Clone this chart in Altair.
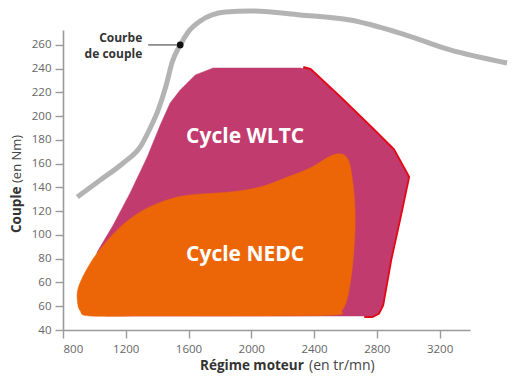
import altair as alt
import pandas as pd

# ---------------- data ----------------
x_ticks = [800, 1200, 1600, 2000, 2400, 2800, 3200]
y_tick_values = [20, 40, 60, 80, 100, 120, 140, 160, 180, 200, 220, 240, 260]
y_tick_labels = ["40", "60", "60", "80", "100", "120", "140", "160", "180", "200", "220", "240", "260"]

# torque curve (Courbe de couple)
curve_rpm = [891, 1038, 1184, 1292, 1356, 1407, 1458, 1496, 1547, 1598, 1675,
             1835, 1993, 2312, 2630, 2948, 3267, 3630]
curve_nm = [132, 146.3, 160.6, 174.1, 190.1, 205.3, 226.3, 245.7, 260, 271, 280.2,
            287.8, 288.6, 285.3, 281, 270, 255.8, 244.8]

# WLTC operating zone (polygon, clockwise)
wltc_rpm = [1069, 987, 1018, 1120, 1228, 1337, 1420, 1483, 1547, 1643, 1757,
            2312, 2375, 2566, 2776, 2904, 2999, 2948, 2885, 2834, 2808, 2770, 1993]
wltc_nm = [31.8, 53.7, 85.7, 108.4, 135.4, 165.7, 192.6, 211.2, 222.1, 234.7, 240.6,
           240.6, 239, 215.4, 188.4, 171.6, 148.8, 116.8, 78.9, 41, 34.3, 31.8, 31.8]

# red border on the right side of the WLTC zone
edge_rpm = [2330, 2375, 2566, 2776, 2904, 2999, 2948, 2885, 2834, 2808, 2770, 2720]
edge_nm = [240.6, 239, 215.4, 188.4, 171.6, 148.8, 116.8, 78.9, 41, 34.3, 31.8, 31.8]

# NEDC operating zone (blob, clockwise)
nedc_rpm = [974, 910, 891, 897, 942, 1018, 1146, 1292, 1464, 1611, 1866, 2057, 2216,
            2375, 2522, 2611, 2649, 2662, 2649, 2617, 2579, 2522, 1993, 1356]
nedc_nm = [31.8, 36, 45.3, 55.4, 68.8, 84.8, 104.2, 119.4, 129.5, 133.7, 136.2, 140.4, 148,
           156.4, 167.4, 164.8, 142.1, 112.6, 78.9, 49.5, 36.8, 32.6, 31.8, 31.8]

zone_labels = ["Cycle WLTC", "Cycle NEDC"]
zone_label_rpm = [1961, 1961]
zone_label_nm = [182.5, 83.2]

callout_lines = ["Courbe", "de couple"]
callout_rpm = [1305, 1305]
callout_nm = [265.8, 252.4]
leader_rpm = [1343, 1547]
leader_nm = [260, 260]
dot_rpm = [1547]
dot_nm = [260]

# ---------------- chart ----------------
X_DOMAIN = [800, 3394]
Y_DOMAIN = [20, 272.6]
FONT = "Open Sans"

label_expr = " : ".join(
    f"datum.value == {v} ? '{l}'" for v, l in zip(y_tick_values, y_tick_labels)
) + " : datum.label"

xs = alt.Scale(domain=X_DOMAIN, nice=False, zero=False)
ys = alt.Scale(domain=Y_DOMAIN, nice=False, zero=False)

x_axis = alt.Axis(values=x_ticks, format="d", title=None, grid=False,
                  domainColor="#9a9a9a", domainWidth=1.6, tickColor="#9a9a9a",
                  tickWidth=1.4, tickSize=8, labelFont=FONT, labelFontSize=11.5,
                  labelColor="#666666", labelPadding=5, labelOverlap=False)
y_axis = alt.Axis(values=y_tick_values, labelExpr=label_expr, title=None, grid=False,
                  domainColor="#9a9a9a", domainWidth=1.6, tickColor="#9a9a9a",
                  tickWidth=1.4, tickSize=8, labelFont=FONT, labelFontSize=11.5,
                  labelColor="#666666", labelPadding=4, labelOverlap=False)


def X(field="rpm:Q"):
    return alt.X(field, scale=xs, axis=x_axis)


def Y(field="nm:Q"):
    return alt.Y(field, scale=ys, axis=y_axis)


curve_df = pd.DataFrame({"rpm": curve_rpm, "nm": curve_nm})
wltc_df = pd.DataFrame({"rpm": wltc_rpm, "nm": wltc_nm, "i": range(len(wltc_rpm))})
edge_df = pd.DataFrame({"rpm": edge_rpm, "nm": edge_nm, "i": range(len(edge_rpm))})
nedc_df = pd.DataFrame({"rpm": nedc_rpm, "nm": nedc_nm, "i": range(len(nedc_rpm))})
zl_df = pd.DataFrame({"t": zone_labels, "rpm": zone_label_rpm, "nm": zone_label_nm})
co_df = pd.DataFrame({"t": callout_lines, "rpm": callout_rpm, "nm": callout_nm})
ld_df = pd.DataFrame({"rpm": leader_rpm, "nm": leader_nm})
dot_df = pd.DataFrame({"rpm": dot_rpm, "nm": dot_nm})

curve = alt.Chart(curve_df).mark_line(color="#b3b3b3", strokeWidth=5,
                                      interpolate="monotone").encode(x=X(), y=Y())

edge = alt.Chart(edge_df).mark_line(color="#e30613", strokeWidth=4,
                                    strokeJoin="round").encode(
    x=X(), y=Y(), order="i:Q")

wltc = alt.Chart(wltc_df).mark_line(fill="#c13b6e", color="#c13b6e", strokeWidth=0.5,
                                    interpolate="linear-closed").encode(
    x=X(), y=Y(), order="i:Q")

nedc = alt.Chart(nedc_df).mark_line(fill="#ec6608", color="#ec6608", strokeWidth=0.5,
                                    interpolate="cardinal-closed").encode(
    x=X(), y=Y(), order="i:Q")

zone_text = alt.Chart(zl_df).mark_text(font=FONT, fontSize=21, fontWeight="bold",
                                       color="white", align="center",
                                       baseline="middle").encode(
    x=X(), y=Y(), text="t:N")

callout = alt.Chart(co_df).mark_text(font=FONT, fontSize=12, fontWeight="bold",
                                     color="#333333", align="right",
                                     baseline="middle").encode(
    x=X(), y=Y(), text="t:N")

leader = alt.Chart(ld_df).mark_line(color="#333333", strokeWidth=1).encode(
    x=X(), y=Y())

dot = alt.Chart(dot_df).mark_point(filled=True, color="#111111", size=45,
                                   opacity=1).encode(x=X(), y=Y())

x_title_bold = alt.Chart(pd.DataFrame({"t": ["Régime moteur"]})).mark_text(
    font=FONT, fontSize=13.5, fontWeight="bold", color="#333333", align="left",
    baseline="alphabetic").encode(x=alt.value(137), y=alt.value(340), text="t:N")
x_title_norm = alt.Chart(pd.DataFrame({"t": ["(en tr/mn)"]})).mark_text(
    font=FONT, fontSize=14, color="#444444", align="left",
    baseline="alphabetic").encode(x=alt.value(246), y=alt.value(340), text="t:N")
y_title_bold = alt.Chart(pd.DataFrame({"t": ["Couple"]})).mark_text(
    font=FONT, fontSize=13.5, fontWeight="bold", color="#333333", align="left",
    baseline="middle", angle=270).encode(x=alt.value(-46), y=alt.value(203), text="t:N")
y_title_norm = alt.Chart(pd.DataFrame({"t": ["(en Nm)"]})).mark_text(
    font=FONT, fontSize=13, color="#444444", align="left",
    baseline="middle", angle=270).encode(x=alt.value(-46), y=alt.value(153), text="t:N")

chart = alt.layer(
    curve, edge, wltc, nedc, zone_text, leader, dot, callout,
    x_title_bold, x_title_norm, y_title_bold, y_title_norm,
).properties(
    width=407, height=300,
    autosize=alt.AutoSizeParams(type="none"),
    padding={"left": 55, "top": 22, "right": 39, "bottom": 43},
    background="white",
).configure_view(stroke=None)

chart.save("out.html", embed_options={"renderer": "svg", "actions": False})
